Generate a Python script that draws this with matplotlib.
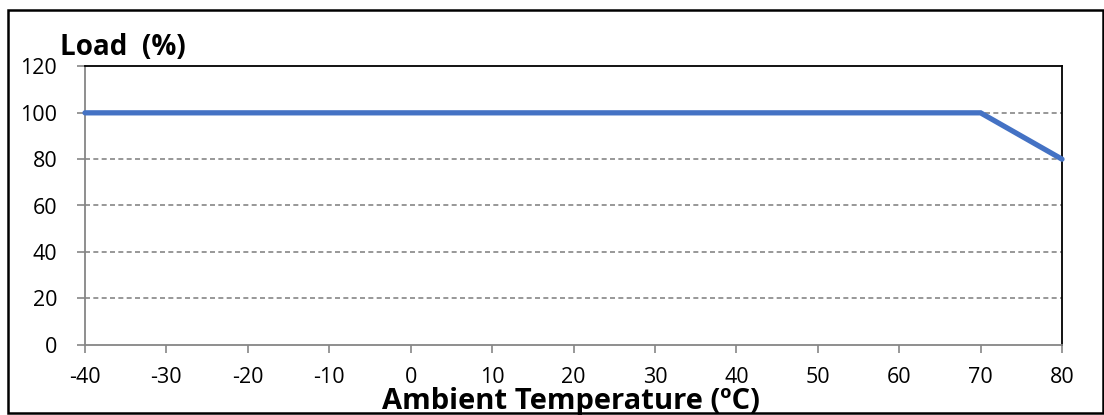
import matplotlib.pyplot as plt
from matplotlib.patches import Rectangle

# ---------------------
# DATA
# ---------------------
temperature = [-40, 70, 80]
load_pct = [100, 100, 80]
x_ticks = [-40, -30, -20, -10, 0, 10, 20, 30, 40, 50, 60, 70, 80]
y_ticks = [0, 20, 40, 60, 80, 100, 120]

W, H = 1104, 415
plt.rcParams["font.family"] = ["Open Sans", "DejaVu Sans"]
plt.rcParams["axes.unicode_minus"] = False


def main():
    fig = plt.figure(figsize=(W / 100, H / 100), dpi=100)
    ax = fig.add_axes([85 / W, 1 - 344.5 / H, (1062 - 85) / W, (344.5 - 66.5) / H])

    ax.plot(temperature, load_pct, color="#4472C4", lw=3.8, solid_capstyle="round",
            solid_joinstyle="miter", zorder=3, clip_on=False)

    ax.set_xlim(-40, 80)
    ax.set_ylim(0, 120)
    ax.set_xticks(x_ticks)
    ax.set_yticks(y_ticks)
    ax.tick_params(axis="both", labelsize=15.5, color="#868686", length=6, width=1.2)
    ax.tick_params(axis="x", pad=10)
    ax.tick_params(axis="y", pad=14)

    for v in y_ticks[1:-1]:
        ax.axhline(v, color="#868686", lw=1.2, ls=(0, (3, 2)), zorder=1)

    ax.spines["left"].set_color("#868686")
    ax.spines["bottom"].set_color("#868686")
    ax.spines["left"].set_linewidth(1.3)
    ax.spines["bottom"].set_linewidth(1.3)
    ax.spines["top"].set_color("black")
    ax.spines["right"].set_color("black")
    ax.spines["top"].set_linewidth(1.3)
    ax.spines["right"].set_linewidth(1.3)

    fig.text(60 / W, 1 - 55 / H, "Load  (%)", fontsize=20, fontweight="bold",
             ha="left", va="baseline")
    fig.text(571 / W, 1 - 409 / H, "Ambient Temperature (ºC)", fontsize=21,
             fontweight="bold", ha="center", va="baseline")

    fig.patches.append(Rectangle((8 / W, 1 - 412.5 / H), (1103 - 8) / W, (412.5 - 10) / H,
                                 transform=fig.transFigure, fill=False,
                                 edgecolor="black", lw=1.8, zorder=10))

    fig.savefig("out.png", dpi=100)
    plt.close(fig)


if __name__ == "__main__":
    main()
